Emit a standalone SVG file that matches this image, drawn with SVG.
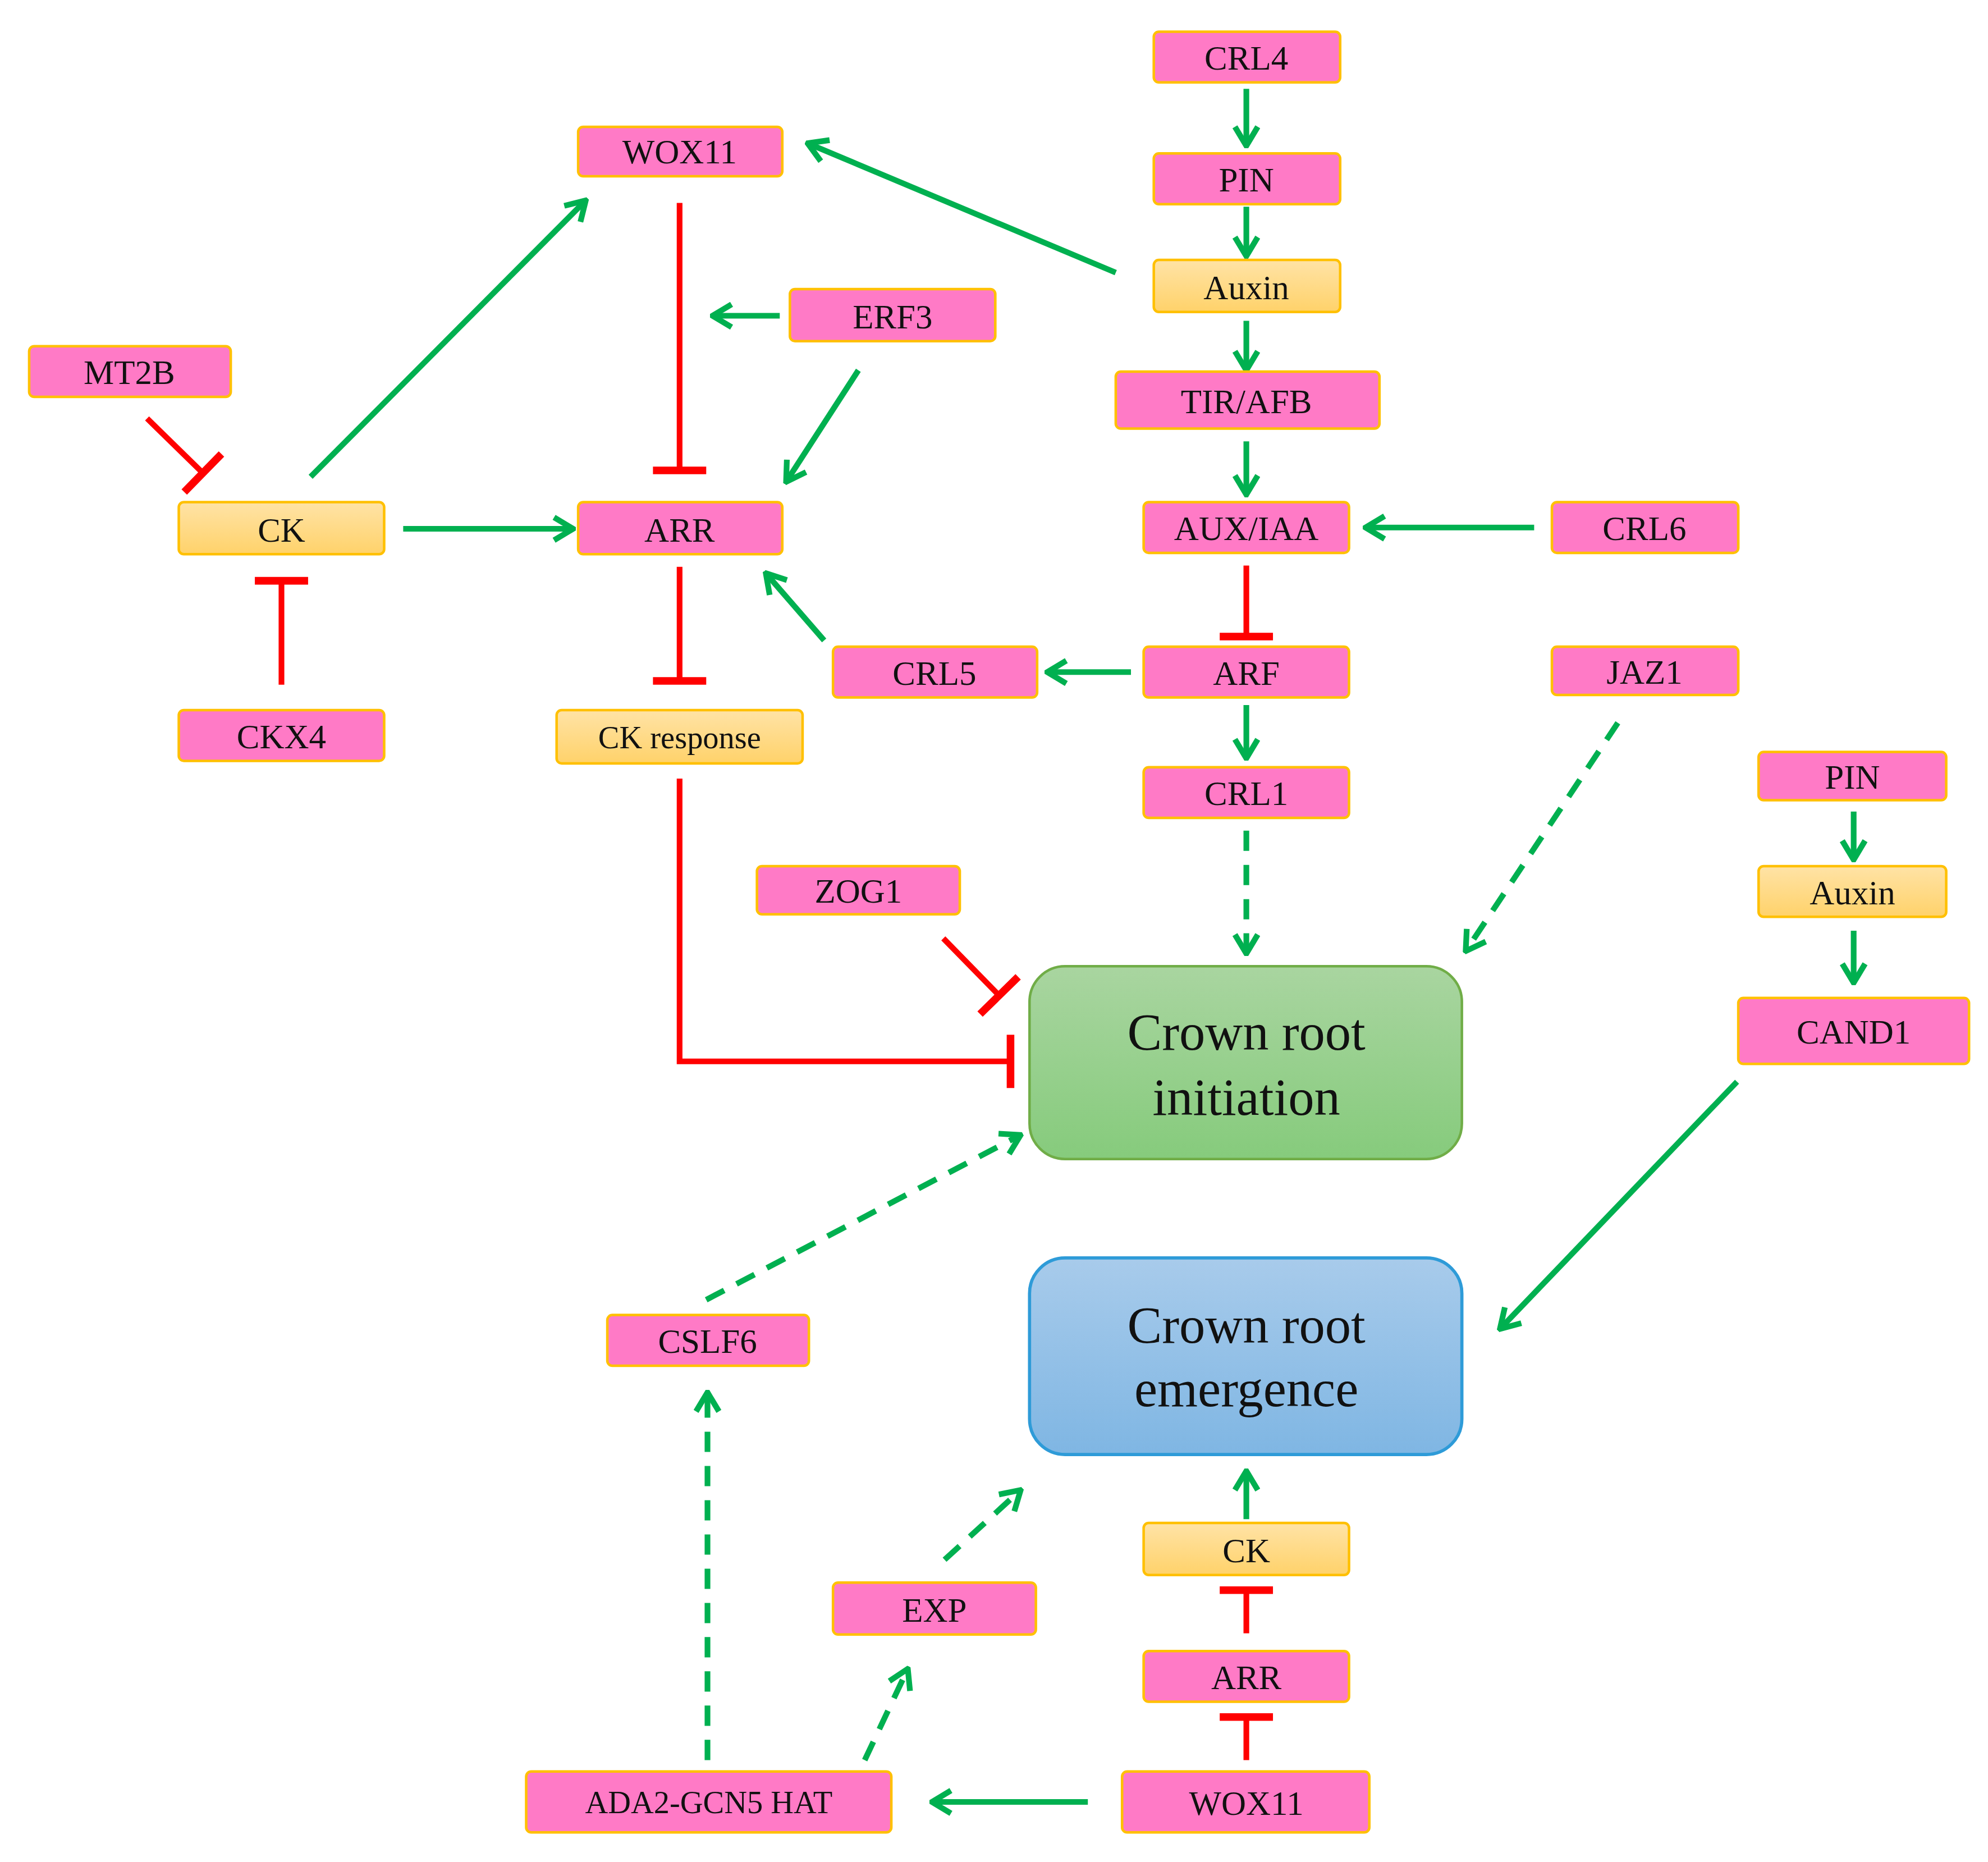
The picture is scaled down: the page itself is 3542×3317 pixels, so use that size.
<svg xmlns="http://www.w3.org/2000/svg" width="3542" height="3317" viewBox="0 0 3542 3317">
<style>
.p{fill:#FF7AC6;stroke:#FFC000;stroke-width:2}
.y{fill:url(#gy);stroke:#FFC000;stroke-width:2}
text{font-family:"Liberation Serif","Times New Roman",serif;font-size:27px;text-anchor:middle;fill:#111}
.big{font-size:41px}
.g{stroke:#00B050;stroke-width:4.5;fill:none}
.gd{stroke:#00B050;stroke-width:4.5;fill:none;stroke-dasharray:16 11}
.r{stroke:#FF0000;stroke-width:4.5;fill:none}
</style>
<defs>
<linearGradient id="gy" x1="0" y1="0" x2="0" y2="1"><stop offset="0" stop-color="#FFE3A6"/><stop offset="1" stop-color="#FFD26A"/></linearGradient>
<linearGradient id="gg" x1="0" y1="0" x2="0" y2="1"><stop offset="0" stop-color="#A9D5A0"/><stop offset="1" stop-color="#86CB7C"/></linearGradient>
<linearGradient id="gb" x1="0" y1="0" x2="0" y2="1"><stop offset="0" stop-color="#A8CBEB"/><stop offset="1" stop-color="#7FB6E3"/></linearGradient>
<marker id="a" viewBox="-18 -11 20 22" refX="0" refY="0" markerWidth="20" markerHeight="22" markerUnits="userSpaceOnUse" orient="auto">
<path d="M-15,-9 L0,0 L-15,9" fill="none" stroke="#00B050" stroke-width="4.5" stroke-dasharray="none"/></marker>
<marker id="b" viewBox="-4 -22 8 44" refX="0" refY="0" markerWidth="8" markerHeight="44" markerUnits="userSpaceOnUse" orient="auto">
<rect x="-3" y="-21" width="6" height="42" fill="#FF0000"/></marker>
</defs>
<g transform="scale(2.259)">
<g id="connectors">
<line class="g" x1="983" y1="70" x2="983" y2="115" marker-end="url(#a)"/>
<line class="g" x1="983" y1="163" x2="983" y2="202" marker-end="url(#a)"/>
<line class="g" x1="983" y1="253" x2="983" y2="292" marker-end="url(#a)"/>
<line class="g" x1="983" y1="348" x2="983" y2="390" marker-end="url(#a)"/>
<line class="g" x1="1210" y1="416" x2="1077" y2="416" marker-end="url(#a)"/>
<line class="r" x1="983" y1="446" x2="983" y2="502" marker-end="url(#b)"/>
<line class="g" x1="892" y1="530" x2="826" y2="530" marker-end="url(#a)"/>
<line class="g" x1="983" y1="556" x2="983" y2="598" marker-end="url(#a)"/>
<line class="gd" x1="983" y1="655" x2="983" y2="752" marker-end="url(#a)"/>
<line class="gd" x1="1276" y1="570" x2="1156" y2="750" marker-end="url(#a)"/>
<line class="g" x1="880" y1="215" x2="637" y2="113" marker-end="url(#a)"/>
<line class="g" x1="615" y1="249" x2="562" y2="249" marker-end="url(#a)"/>
<line class="g" x1="677" y1="292" x2="620" y2="380" marker-end="url(#a)"/>
<line class="r" x1="536" y1="160" x2="536" y2="371" marker-end="url(#b)"/>
<line class="g" x1="245" y1="376" x2="462" y2="158" marker-end="url(#a)"/>
<line class="g" x1="318" y1="417" x2="452" y2="417" marker-end="url(#a)"/>
<line class="r" x1="116" y1="330" x2="160" y2="373" marker-end="url(#b)"/>
<line class="r" x1="222" y1="540" x2="222" y2="458" marker-end="url(#b)"/>
<line class="r" x1="536" y1="447" x2="536" y2="537" marker-end="url(#b)"/>
<line class="g" x1="650" y1="505" x2="604" y2="452" marker-end="url(#a)"/>
<polyline class="r" points="536,614 536,837 797,837" marker-end="url(#b)"/>
<line class="r" x1="744" y1="740" x2="788" y2="785" marker-end="url(#b)"/>
<line class="gd" x1="557" y1="1025" x2="805" y2="895" marker-end="url(#a)"/>
<line class="g" x1="1462" y1="640" x2="1462" y2="678" marker-end="url(#a)"/>
<line class="g" x1="1462" y1="734" x2="1462" y2="775" marker-end="url(#a)"/>
<line class="g" x1="1370" y1="853" x2="1183" y2="1048" marker-end="url(#a)"/>
<line class="gd" x1="558" y1="1388" x2="558" y2="1098" marker-end="url(#a)"/>
<line class="gd" x1="682" y1="1388" x2="716" y2="1316" marker-end="url(#a)"/>
<line class="gd" x1="745" y1="1230" x2="805" y2="1175" marker-end="url(#a)"/>
<line class="g" x1="983" y1="1198" x2="983" y2="1160" marker-end="url(#a)"/>
<line class="r" x1="983" y1="1288" x2="983" y2="1254" marker-end="url(#b)"/>
<line class="r" x1="983" y1="1388" x2="983" y2="1354" marker-end="url(#b)"/>
<line class="g" x1="858" y1="1421" x2="735" y2="1421" marker-end="url(#a)"/>
</g>
<g id="crl4"><rect class="p" x="910" y="25" width="147" height="40" rx="4"/><text x="983" y="55">CRL4</text></g>
<g id="pin"><rect class="p" x="910" y="121" width="147" height="40" rx="4"/><text x="983" y="151">PIN</text></g>
<g id="auxin"><rect class="y" x="910" y="205" width="147" height="41" rx="4"/><text x="983" y="236">Auxin</text></g>
<g id="tirafb"><rect class="p" x="880" y="293" width="208" height="45" rx="4"/><text x="983" y="326">TIR/AFB</text></g>
<g id="auxiaa"><rect class="p" x="902" y="396" width="162" height="40" rx="4"/><text x="983" y="426">AUX/IAA</text></g>
<g id="crl6"><rect class="p" x="1224" y="396" width="147" height="40" rx="4"/><text x="1297" y="426">CRL6</text></g>
<g id="arf"><rect class="p" x="902" y="510" width="162" height="40" rx="4"/><text x="983" y="540">ARF</text></g>
<g id="crl5"><rect class="p" x="657" y="510" width="161" height="40" rx="4"/><text x="737" y="540">CRL5</text></g>
<g id="jaz1"><rect class="p" x="1224" y="510" width="147" height="38" rx="4"/><text x="1297" y="539">JAZ1</text></g>
<g id="crl1"><rect class="p" x="902" y="605" width="162" height="40" rx="4"/><text x="983" y="635">CRL1</text></g>
<g id="pin2"><rect class="p" x="1387" y="593" width="148" height="38" rx="4"/><text x="1461" y="622">PIN</text></g>
<g id="auxin2"><rect class="y" x="1387" y="683" width="148" height="40" rx="4"/><text x="1461" y="713">Auxin</text></g>
<g id="cand1"><rect class="p" x="1371" y="787" width="182" height="52" rx="4"/><text x="1462" y="823">CAND1</text></g>
<g id="wox11"><rect class="p" x="456" y="100" width="161" height="39" rx="4"/><text x="536" y="129">WOX11</text></g>
<g id="erf3"><rect class="p" x="623" y="228" width="162" height="41" rx="4"/><text x="704" y="259">ERF3</text></g>
<g id="mt2b"><rect class="p" x="23" y="273" width="159" height="40" rx="4"/><text x="102" y="303">MT2B</text></g>
<g id="ck"><rect class="y" x="141" y="396" width="162" height="41" rx="4"/><text x="222" y="427">CK</text></g>
<g id="arr"><rect class="p" x="456" y="396" width="161" height="41" rx="4"/><text x="536" y="427">ARR</text></g>
<g id="ckx4"><rect class="p" x="141" y="560" width="162" height="40" rx="4"/><text x="222" y="590">CKX4</text></g>
<g id="ckresponse"><rect class="y" x="439" y="560" width="194" height="42" rx="4"/><text x="536" y="590" style="font-size:25px">CK response</text></g>
<g id="zog1"><rect class="p" x="597" y="683" width="160" height="38" rx="4"/><text x="677" y="712">ZOG1</text></g>
<g id="initiation"><rect x="812" y="762" width="341" height="152" rx="28" fill="url(#gg)" stroke="#70AD47" stroke-width="2"/><text class="big" x="983" y="828">Crown root</text><text class="big" x="983" y="879">initiation</text></g>
<g id="emergence"><rect x="812" y="992" width="341" height="155" rx="28" fill="url(#gb)" stroke="#2E9BD8" stroke-width="2.5"/><text class="big" x="983" y="1059">Crown root</text><text class="big" x="983" y="1109">emergence</text></g>
<g id="cslf6"><rect class="p" x="479" y="1037" width="159" height="40" rx="4"/><text x="558" y="1067">CSLF6</text></g>
<g id="exp"><rect class="p" x="657" y="1248" width="160" height="41" rx="4"/><text x="737" y="1279">EXP</text></g>
<g id="ck2"><rect class="y" x="902" y="1201" width="162" height="41" rx="4"/><text x="983" y="1232">CK</text></g>
<g id="arr2"><rect class="p" x="902" y="1302" width="162" height="40" rx="4"/><text x="983" y="1332">ARR</text></g>
<g id="wox11b"><rect class="p" x="885" y="1397" width="195" height="48" rx="4"/><text x="983" y="1431">WOX11</text></g>
<g id="ada2"><rect class="p" x="415" y="1397" width="288" height="48" rx="4"/><text x="559" y="1430" style="font-size:25px">ADA2-GCN5 HAT</text></g>
</g>
</svg>
